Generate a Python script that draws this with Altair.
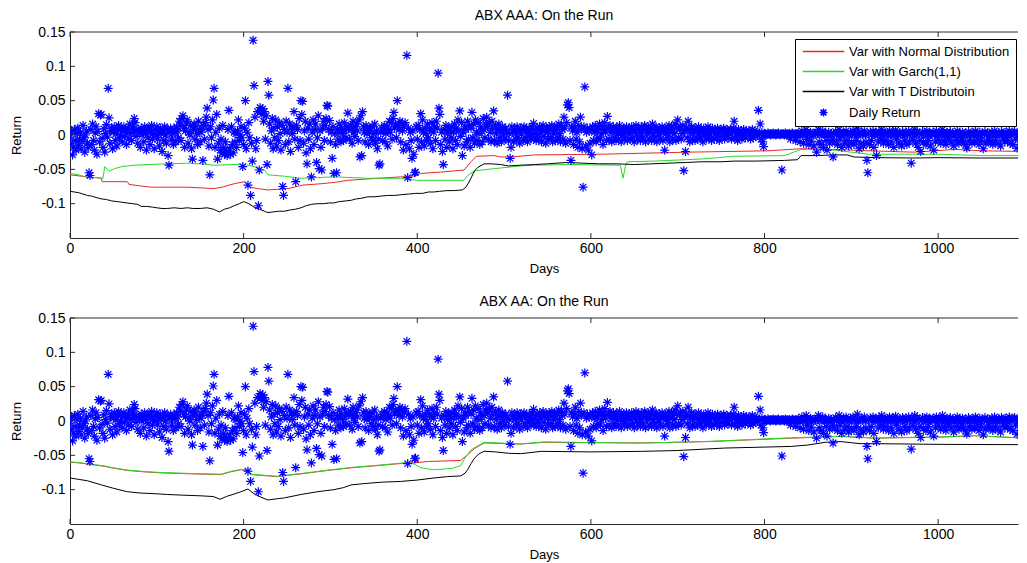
import altair as alt
import pandas as pd

# ---------------- data ----------------
# daily returns in thousandths, one value per day (same series in both panels)
RETURNS_MILLI = [
    -3, -12, 5, -29, -18, 8, -8, -22, 2, 10, -15, -6, 4, -20, -10, 14, -4, -25, 0, 6,
    -12, -18, -55, -59, 8, -14, 16, -8, -22, 3, 12, -28, 5, 31, -10, 29, 30, -5, -18, 9,
    -25, 2, 15, -3, 68, 25, -12, 6, 10, -20, 4, 12, -8, 2, -16, 8, 14, -4, 0, 10,
    -10, 6, 12, -2, 8, -14, 4, 10, -6, 16, 2, -8, 12, 5, 24, 18, -2, 8, -12, 6,
    4, -18, 10, 0, 6, -10, 12, 2, -22, 8, -4, 10, -14, 4, 14, -6, 2, -20, 8, 0,
    12, -6, 4, -16, 10, 2, -24, 6, -8, 12, 0, -12, 8, -30, -44, 4, 10, -6, 2, -14,
    8, 4, -10, 12, 6, -4, 20, 14, -8, 24, 28, 10, -18, 6, 16, 22, -12, 4, 0, 14,
    -20, -35, 8, 16, -6, 12, 2, -14, 20, 6, -10, 4, 10, -37, 14, -6, 18, 26, 39, 8,
    -16, -58, 12, -4, 22, 51, 68, -18, 4, 30, -35, -12, 10, -22, -6, -26, 14, -18, -28, -10,
    -24, -30, 8, 36, -20, -28, 12, -14, -26, 4, -10, 2, -18, 6, 22, -8, 0, 12, -4, -46,
    -14, 10, 50, -20, 4, -73, 18, -4, -88, -12, -38, 138, 72, 26, -20, -8, 34, -103, -51, 40,
    36, 30, 38, 20, 34, -6, 28, -43, 78, 58, 16, -12, 6, 24, -20, 10, -4, 22, -16, 12,
    -8, 18, 2, -22, 14, -75, -88, 8, -14, 20, 4, 68, -10, 16, -24, 10, 2, 12, 34, -6,
    -68, 14, 8, -18, 24, -8, 50, 30, 49, -12, 6, 20, -26, -42, 10, -6, 16, -20, -61, 4,
    22, -14, 8, 16, -40, -4, 28, -49, 6, -18, -51, 10, 20, -8, 14, 24, 43, 42, 8, 21,
    -10, 4, -34, 12, -56, 2, -14, -55, 8, -6, 16, 4, -10, 10, 2, -8, 18, 6, -4, 12,
    32, 10, -6, 14, 8, -12, 20, 4, -2, 12, 16, 6, -8, 22, -32, 28, -30, 34, 12, 4,
    -10, 14, 2, 8, -14, 6, 10, -4, 12, -8, 2, 16, -12, 6, -20, -6, -44, -42, 4, 10,
    -8, 6, 14, -10, 2, 12, -16, 8, 20, 4, 18, -6, 24, 33, 10, 16, -4, 50, 14, 8,
    20, -10, 16, 6, -22, 12, 18, -14, 116, -62, 10, -20, 4, -8, -34, 6, -28, -55, -54, 12,
    -6, 14, -18, 8, 31, -10, 22, 4, -16, 10, 2, -8, 16, -4, 10, -12, 6, 18, -20, 4,
    12, -8, 20, 10, 90, 39, 30, -14, 4, -24, -43, 8, -6, 14, -18, 2, 10, -10, 6, -4,
    12, -20, 4, 16, -8, 10, -14, 22, 6, 35, -2, 18, -30, 4, -16, 12, 8, -10, 20, -6,
    14, -18, 10, 33, -4, 16, -12, 22, 4, -8, 18, 2, -14, 12, 6, -10, 24, 8, -4, 16,
    26, 12, -6, 18, 4, -10, 20, 10, 35, -8, 14, 2, -12, 8, 16, -4, 6, -10, 12, 0,
    8, -6, 10, 4, 58, -8, 2, -34, -18, 12, 4, -10, 8, 2, -6, 12, -4, 6, -12, 10,
    2, 8, -8, 12, -4, 6, 10, -10, 4, -2, 8, -6, 12, 2, 17, -4, 6, -8, 10, 0,
    -6, 12, 4, -10, 8, 14, -2, 6, -12, 10, 4, -6, 12, 8, -4, 14, -10, 2, 10, -8,
    6, 12, -4, 16, 2, -10, 14, 8, -6, 26, 10, -12, 18, 44, 47, 40, -8, -37, 12, 6,
    -14, 10, 20, -6, 4, -18, 14, -10, 26, 8, -20, -76, 12, 70, -16, 4, 10, -22, 6, -12,
    8, -29, 12, -8, 4, 14, -10, 6, -4, 10, 16, -6, 2, 12, -14, 8, 18, 4, -8, 27,
    10, -6, 14, 4, -10, 8, 12, -4, 6, -8, 10, 2, -6, 14, 4, -10, 8, 0, 10, -4,
    6, 12, -8, 4, 10, -6, 2, 12, -4, 8, -10, 6, 14, 0, -6, 10, 4, -8, 12, 2,
    -4, 8, 14, -10, 6, 2, 12, -6, 4, 10, -8, 16, 2, -4, 8, 12, -10, 6, 0, 10,
    -6, 4, 12, -8, 6, -22, 10, 2, -4, 8, 14, -10, 4, 12, -6, 8, 2, 16, -8, 10,
    22, -4, 8, 12, -6, 2, 14, -52, 6, -24, 10, -4, 20, 8, -10, 4, 12, -6, 2, 8,
    -8, 10, 4, -6, 12, 2, -4, 8, 6, -10, 10, 0, 4, -6, 8, 12, -4, 2, 6, -8,
    10, 4, -6, 8, 2, -4, 10, 6, -8, 4, 8, -2, 6, 10, -6, 4, 0, 8, -4, 6,
    2, 8, -6, 4, 10, 20, -4, 6, 2, -8, 8, 4, -2, 6, -6, 4, 8, 0, -4, 6,
    4, -2, 6, 2, -6, 4, 8, -4, 2, 6, -2, 4, 0, 36, 2, 16, -6, 4, -10, -17,
    1, 2, 0, 1, 3, 2, 1, 0, 2, 1, 3, 1, 2, 0, 1, 2, 3, 1, 0, 2,
    -51, 1, 2, 0, 3, 1, 2, 1, 0, 2, -6, 1, 3, 2, 0, 1, -8, 2, 1, 3,
    0, -10, 2, 6, 1, -12, 3, 0, 8, -6, 2, -14, 1, 4, -9, 2, 0, -16, 3, 1,
    -25, 2, 8, -10, 1, -14, 3, 6, -18, 0, 2, -8, -22, 1, 4, -12, 2, 0, -6, -32,
    2, -10, 5, 1, -14, 3, 8, -6, 0, -18, 2, 4, -12, 1, 6, -8, 2, -16, 0, 3,
    -10, 2, 6, -14, 1, 3, -8, 10, 0, -20, 2, -12, 4, 1, -16, 6, 0, -10, -37, -55,
    2, -14, 4, -8, 1, 6, -18, 0, 3, -30, 2, -10, 5, 1, -6, 8, 0, -12, 2, 4,
    -8, 1, 3, -14, 6, 0, -10, 2, 4, -18, 1, 7, -6, 2, 0, -12, 3, 1, -16, 5,
    2, -8, 0, 4, -14, 1, 6, -10, 2, -41, 3, -6, 0, 8, -12, 1, 4, -18, 2, -8,
    -24, 1, 5, -10, 2, 0, -14, 6, 1, -8, 3, -16, 2, 0, 4, -22, 1, -10, 6, 2,
    -6, 1, 3, -12, 0, 8, 2, -8, 1, -14, 4, 0, -6, 2, 5, -10, 1, 3, -16, 0,
    2, -8, 6, 1, -12, 3, 0, -6, 4, -10, 2, 1, -14, -19, 0, 5, -8, 2, 1, -12,
    3, 0, -10, 6, 2, -6, 1, -14, 4, 0, -8, 2, -20, 1, 5, -12, 0, 3, -6, 2,
    -10, 1, 4, -14, 0, 6, -8, 2, 1, -12, 3, 0, -16, 5, 2, -6, 1, -10, 4, 0,
    -8, 2, 6, -12, 1, 0, -14, 3, 5, -6, 2, -19, 0, 4, -10, 1, 3, -8, 2, 0,
]

# --- ABX AAA panel VaR curves (day, value) ---
AAA_NORMAL_DAYS = [0, 20, 36, 37, 66, 68, 80, 93, 135, 150, 166, 175, 189, 201, 205, 207, 216, 228, 251, 268, 289, 305, 320, 343, 381, 395, 404, 427, 454, 458, 462, 468, 489, 496, 508, 535, 612, 712, 804, 842, 880, 919, 973, 1019, 1050, 1100]
AAA_NORMAL_VALS = [-0.058, -0.061, -0.063, -0.068, -0.068, -0.072, -0.074, -0.076, -0.076, -0.077, -0.078, -0.076, -0.071, -0.068, -0.072, -0.076, -0.078, -0.080, -0.078, -0.073, -0.071, -0.069, -0.066, -0.064, -0.061, -0.060, -0.056, -0.054, -0.051, -0.045, -0.039, -0.031, -0.030, -0.032, -0.032, -0.029, -0.028, -0.025, -0.023, -0.020, -0.021, -0.023, -0.025, -0.021, -0.023, -0.024]

AAA_GARCH_DAYS = [0, 10, 17, 30, 38, 40, 45, 51, 60, 74, 90, 112, 135, 150, 166, 189, 197, 205, 212, 224, 228, 247, 266, 285, 305, 343, 381, 400, 454, 458, 466, 489, 519, 535, 573, 634, 637, 640, 642, 673, 727, 765, 823, 842, 880, 900, 920, 1000, 1050, 1100]
AAA_GARCH_VALS = [-0.056, -0.058, -0.061, -0.062, -0.063, -0.046, -0.053, -0.049, -0.046, -0.044, -0.043, -0.042, -0.041, -0.042, -0.044, -0.043, -0.043, -0.044, -0.046, -0.051, -0.058, -0.060, -0.063, -0.062, -0.061, -0.063, -0.063, -0.066, -0.066, -0.059, -0.052, -0.049, -0.045, -0.044, -0.043, -0.044, -0.063, -0.044, -0.039, -0.038, -0.035, -0.031, -0.030, -0.021, -0.022, -0.025, -0.028, -0.028, -0.030, -0.030]

AAA_T_DAYS = [0, 5, 10, 15, 20, 25, 30, 36, 42, 48, 54, 60, 66, 72, 78, 82, 88, 95, 100, 106, 112, 120, 128, 135, 142, 150, 158, 165, 172, 178, 184, 189, 195, 200, 206, 212, 218, 224, 228, 234, 240, 247, 254, 260, 266, 272, 278, 285, 292, 298, 304, 310, 318, 324, 330, 336, 343, 350, 358, 366, 374, 381, 390, 398, 406, 413, 419, 426, 434, 442, 452, 456, 459, 463, 466, 470, 477, 485, 496, 505, 519, 535, 550, 573, 590, 610, 630, 650, 670, 690, 710, 727, 750, 765, 790, 823, 838, 842, 860, 880, 895, 903, 930, 973, 1000, 1050, 1100]
AAA_T_VALS = [-0.082, -0.083, -0.084, -0.086, -0.088, -0.089, -0.091, -0.093, -0.094, -0.096, -0.097, -0.098, -0.099, -0.100, -0.101, -0.104, -0.104, -0.105, -0.106, -0.107, -0.107, -0.106, -0.107, -0.106, -0.107, -0.107, -0.106, -0.108, -0.112, -0.108, -0.106, -0.103, -0.100, -0.097, -0.100, -0.105, -0.108, -0.111, -0.113, -0.112, -0.111, -0.111, -0.109, -0.108, -0.106, -0.103, -0.101, -0.100, -0.100, -0.099, -0.099, -0.097, -0.096, -0.095, -0.093, -0.092, -0.090, -0.090, -0.089, -0.088, -0.088, -0.087, -0.086, -0.085, -0.085, -0.083, -0.083, -0.082, -0.081, -0.081, -0.080, -0.076, -0.070, -0.060, -0.052, -0.047, -0.042, -0.042, -0.043, -0.045, -0.044, -0.043, -0.042, -0.040, -0.041, -0.042, -0.042, -0.043, -0.042, -0.041, -0.040, -0.039, -0.039, -0.038, -0.038, -0.037, -0.036, -0.030, -0.030, -0.029, -0.029, -0.032, -0.033, -0.0335, -0.033, -0.0335, -0.0335]

# --- ABX AA panel VaR curves (day, value) ---
AA_NORMAL_DAYS = [0, 10, 28, 40, 47, 66, 85, 105, 140, 174, 185, 197, 203, 208, 239, 252, 266, 297, 325, 354, 389, 397, 412, 450, 458, 466, 477, 519, 546, 658, 735, 831, 888, 927, 1003, 1042, 1100]
AA_NORMAL_VALS = [-0.060, -0.061, -0.064, -0.066, -0.068, -0.072, -0.074, -0.0755, -0.077, -0.078, -0.074, -0.071, -0.072, -0.078, -0.081, -0.079, -0.077, -0.072, -0.068, -0.065, -0.061, -0.061, -0.059, -0.0575, -0.049, -0.040, -0.032, -0.0335, -0.031, -0.032, -0.030, -0.025, -0.0225, -0.025, -0.0235, -0.0215, -0.025]

AA_GARCH_DAYS = [0, 10, 28, 40, 47, 66, 85, 105, 140, 174, 185, 197, 203, 208, 239, 252, 266, 297, 325, 354, 389, 397, 404, 419, 440, 450, 456, 462, 477, 519, 546, 658, 735, 831, 888, 927, 1003, 1042, 1100]
AA_GARCH_VALS = [-0.0595, -0.0605, -0.0635, -0.0655, -0.0675, -0.0715, -0.0735, -0.075, -0.0765, -0.0775, -0.0735, -0.0705, -0.0715, -0.0775, -0.0805, -0.0785, -0.0765, -0.0715, -0.0675, -0.0645, -0.0605, -0.063, -0.068, -0.071, -0.069, -0.065, -0.052, -0.042, -0.031, -0.0335, -0.0305, -0.0322, -0.0297, -0.0245, -0.0222, -0.0248, -0.0232, -0.0213, -0.0248]

AA_T_DAYS = [0, 10, 20, 36, 50, 66, 82, 100, 112, 130, 151, 165, 173, 180, 190, 197, 205, 212, 220, 228, 240, 247, 266, 285, 304, 315, 324, 340, 360, 381, 400, 419, 435, 450, 455, 458, 462, 466, 471, 477, 490, 505, 519, 543, 600, 658, 700, 754, 800, 831, 850, 870, 888, 910, 927, 1000, 1100]
AA_T_VALS = [-0.083, -0.085, -0.087, -0.093, -0.098, -0.103, -0.105, -0.106, -0.107, -0.108, -0.109, -0.110, -0.114, -0.110, -0.106, -0.103, -0.099, -0.106, -0.111, -0.115, -0.113, -0.112, -0.107, -0.103, -0.100, -0.097, -0.093, -0.091, -0.089, -0.088, -0.086, -0.083, -0.081, -0.080, -0.076, -0.071, -0.062, -0.054, -0.048, -0.044, -0.045, -0.047, -0.0476, -0.0442, -0.045, -0.0442, -0.043, -0.0394, -0.038, -0.037, -0.035, -0.031, -0.030, -0.033, -0.033, -0.034, -0.0345]

SERIES = ["Var with Normal Distribution", "Var with Garch(1,1)", "Var with T Distributoin", "Daily Return"]
COLORS = ["#e8282a", "#2ad82a", "#000000", "#0000ff"]
TITLES = ["ABX AAA: On the Run", "ABX AA: On the Run"]
X_TICKS = [0, 200, 400, 600, 800, 1000]
Y_TICKS = [-0.1, -0.05, 0, 0.05, 0.1, 0.15]
X_DOMAIN = [0, 1092]
Y_DOMAIN = [-0.15, 0.15]

# ---------------- styling ----------------
FONT = "Liberation Sans"
W, H = 948, 206
STAR = "M-1,0L1,0M0,-1L0,1M-0.72,-0.72L0.72,0.72M-0.72,0.72L0.72,-0.72"
LINE = "M-5.2,0L5.2,0"
AXIS_COLOR = "#2a2a2a"

ret_df = pd.DataFrame({
    "day": list(range(len(RETURNS_MILLI))),
    "value": [v / 1000 for v in RETURNS_MILLI],
    "series": SERIES[3],
})


def lines_frame(curves):
    rows = []
    for name, (ds, vs) in zip(SERIES[:3], curves):
        for d, v in zip(ds, vs):
            rows.append({"day": d, "value": v, "series": name})
    return pd.DataFrame(rows)


xscale = alt.Scale(domain=X_DOMAIN, nice=False, zero=False)
yscale = alt.Scale(domain=Y_DOMAIN, nice=False, zero=False)
cscale = alt.Scale(domain=SERIES, range=COLORS)
sscale = alt.Scale(domain=SERIES, range=[LINE, LINE, LINE, STAR])

legend = alt.Legend(
    title=None, orient="none", legendX=725, legendY=7,
    strokeColor="black", fillColor="white", padding=6, cornerRadius=0,
    symbolSize=64, symbolStrokeWidth=1.5, symbolOffset=16, labelOffset=19,
    labelFont=FONT, labelFontSize=13, labelColor="black", labelLimit=400, rowPadding=6,
)

xaxis = alt.Axis(values=X_TICKS, title="Days", format="d", ticks=False, grid=False,
                 domainColor=AXIS_COLOR, labelFont=FONT, labelFontSize=14, labelColor="black",
                 labelPadding=3, titleFont=FONT, titleFontSize=13, titleFontWeight="normal",
                 titleColor="black", titlePadding=7, labelFlush=False)
yaxis = alt.Axis(values=Y_TICKS, title="Return", ticks=False, grid=False,
                 labelExpr="datum.value < 0 ? '-' + format(-datum.value, '~g') : format(datum.value, '~g')",
                 domainColor=AXIS_COLOR, labelFont=FONT, labelFontSize=14, labelColor="black",
                 labelPadding=5, titleFont=FONT, titleFontSize=13, titleFontWeight="normal",
                 titleColor="black", titlePadding=10)


def panel(title, curves):
    ldf = lines_frame(curves)
    X = lambda f: alt.X(f, scale=xscale, axis=xaxis)
    Y = lambda f: alt.Y(f, scale=yscale, axis=yaxis)
    lines = alt.Chart(ldf).mark_line(strokeWidth=1, clip=True).encode(
        x=X("day:Q"), y=Y("value:Q"),
        color=alt.Color("series:N", scale=cscale, legend=legend),
    )
    pts = alt.Chart(ret_df).mark_point(filled=False, size=81, strokeWidth=1.2, opacity=1, clip=True).encode(
        x=X("day:Q"), y=Y("value:Q"),
        color=alt.Color("series:N", scale=cscale, legend=legend),
        shape=alt.Shape("series:N", scale=sscale, legend=legend),
    )
    xt = pd.DataFrame({"t": X_TICKS})
    yt = pd.DataFrame({"t": Y_TICKS})
    xb = alt.Chart(xt).mark_rule(color=AXIS_COLOR, strokeWidth=1).encode(
        x=X("t:Q"), y=alt.value(H), y2=alt.value(H - 5))
    xtop = alt.Chart(xt).mark_rule(color=AXIS_COLOR, strokeWidth=1).encode(
        x=X("t:Q"), y=alt.value(0), y2=alt.value(5))
    yl = alt.Chart(yt).mark_rule(color=AXIS_COLOR, strokeWidth=1).encode(
        y=Y("t:Q"), x=alt.value(0), x2=alt.value(5))
    frame = alt.Chart(pd.DataFrame({"k": [0]})).mark_rule(color=AXIS_COLOR, strokeWidth=1).encode(
        x=alt.value(0), x2=alt.value(W), y=alt.value(0))
    return alt.layer(lines, pts, xb, xtop, yl, frame).properties(
        width=W, height=H,
        title=alt.TitleParams(title, font=FONT, fontSize=14, fontWeight="normal",
                              color="black", offset=2, anchor="middle"),
    )


top = panel(TITLES[0], [(AAA_NORMAL_DAYS, AAA_NORMAL_VALS), (AAA_GARCH_DAYS, AAA_GARCH_VALS), (AAA_T_DAYS, AAA_T_VALS)])
bottom = panel(TITLES[1], [(AA_NORMAL_DAYS, AA_NORMAL_VALS), (AA_GARCH_DAYS, AA_GARCH_VALS), (AA_T_DAYS, AA_T_VALS)])

chart = alt.vconcat(top, bottom, spacing=18).resolve_scale(color="shared").properties(
    padding={"left": 1, "top": 0, "right": 0, "bottom": 0},
    background="white",
).configure_view(stroke="transparent")

chart.save("out.html", embed_options={"renderer": "svg", "actions": False})
